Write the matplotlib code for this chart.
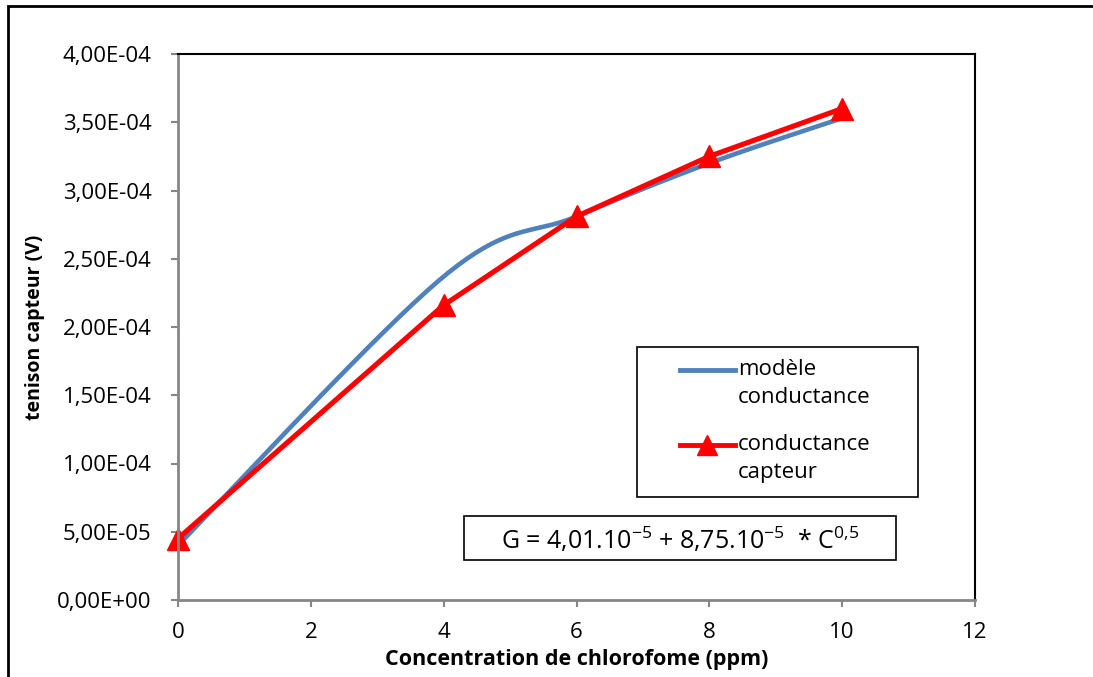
import numpy as np
import matplotlib.pyplot as plt
from matplotlib.patches import Rectangle
from matplotlib.lines import Line2D

plt.rcParams['font.family'] = ['Open Sans', 'DejaVu Sans']
plt.rcParams['mathtext.fontset'] = 'custom'
plt.rcParams['mathtext.rm'] = 'Open Sans'
plt.rcParams['mathtext.it'] = 'Open Sans'

conc = [0, 4, 6, 8, 10]
modele = [4.01e-5, 2.37e-4, 2.81e-4, 3.20e-4, 3.53e-4]
capteur = [4.5e-5, 2.16e-4, 2.81e-4, 3.25e-4, 3.60e-4]

x_ticks = [0, 2, 4, 6, 8, 10, 12]
y_ticks = [0, 5e-5, 1e-4, 1.5e-4, 2e-4, 2.5e-4, 3e-4, 3.5e-4, 4e-4]

labels = ['modèle\nconductance', 'conductance\ncapteur']
blue = '#4f81bd'
red = '#ff0000'


def smooth(xs, ys, n=40):
    # excel-like smoothed line (bezier, tangents from neighbours)
    p = np.column_stack([xs, ys]).astype(float)
    out = []
    for i in range(len(p) - 1):
        p0 = p[i - 1] if i > 0 else p[i]
        p3 = p[i + 2] if i + 2 < len(p) else p[i + 1]
        c1 = p[i] + (p[i + 1] - p0) / 6
        c2 = p[i + 1] - (p3 - p[i]) / 6
        t = np.linspace(0, 1, n)[:, None]
        seg = ((1 - t) ** 3 * p[i] + 3 * (1 - t) ** 2 * t * c1
               + 3 * (1 - t) * t ** 2 * c2 + t ** 3 * p[i + 1])
        out.append(seg if i == 0 else seg[1:])
    out = np.vstack(out)
    return out[:, 0], out[:, 1]


W, H = 1093, 677
fig = plt.figure(figsize=(W / 100, H / 100), dpi=100)
ax = fig.add_axes([178 / W, 77 / H, 797 / W, 546 / H])

sx, sy = smooth(conc, modele)
ax.plot(sx, sy, color=blue, lw=3.3, solid_capstyle='butt', clip_on=False)
ax.plot(conc, capteur, color=red, lw=3.7, marker='^', markersize=16, clip_on=False)

ax.set_xlim(0, 12)
ax.set_ylim(0, 4e-4)
ax.set_xticks(x_ticks)
ax.set_yticks(y_ticks)
ax.set_xticklabels([str(v) for v in x_ticks], fontsize=16)
ax.set_yticklabels([f'{v:.2E}'.replace('.', ',') for v in y_ticks], fontsize=16)
ax.tick_params(axis='both', direction='out', length=5, width=1.5, color='#868686')
ax.tick_params(axis='y', pad=14)
ax.tick_params(axis='x', pad=11)

for s in ['left', 'bottom']:
    ax.spines[s].set_color('#868686')
    ax.spines[s].set_linewidth(2)
for s in ['top', 'right']:
    ax.spines[s].set_color('black')
    ax.spines[s].set_linewidth(1.5)

ax.set_xlabel('Concentration de chlorofome (ppm)', fontsize=15.5, fontweight='bold')
ax.xaxis.set_label_coords(0.5, (H - 660 - 77) / 546)
ax.xaxis.label.set_va('center')
ax.set_ylabel('tenison capteur (V)', fontsize=14, fontweight='bold')
ax.yaxis.set_label_coords((35 - 178) / 797, 0.5)
ax.yaxis.label.set_va('center')

# legend drawn by hand so the key sits on the first line of each label
fig.patches.append(Rectangle((637 / W, 1 - 497 / H), 281 / W, 150 / H,
                             transform=fig.transFigure, fc='white', ec='black', lw=1.2))
for row, (lab, col, mk) in enumerate(zip(labels, [blue, red], [None, '^'])):
    yy = 1 - (370 + row * 75) / H
    fig.add_artist(Line2D([680 / W, 735 / W], [yy, yy], transform=fig.transFigure,
                          color=col, lw=3.5))
    if mk:
        fig.add_artist(Line2D([707 / W], [yy], transform=fig.transFigure,
                              color=col, marker=mk, markersize=14, lw=0))
    fig.text(738 / W, yy + 11 / H, lab, fontsize=16, ha='left', va='top',
             linespacing=1.45)

# equation box
fig.patches.append(Rectangle((464 / W, 1 - 560 / H), 432 / W, 44 / H,
                             transform=fig.transFigure, fc='white', ec='black', lw=1.2))
fig.text(680 / W, 1 - 540 / H,
         r'G = 4,01.10$^{-5}$ + 8,75.10$^{-5}$  * C$^{0{,}5}$',
         fontsize=18, ha='center', va='center')

fig.patches.append(Rectangle((8 / W, -0.1), 1.2, 1 - 6 / H + 0.1,
                             transform=fig.transFigure, fill=False,
                             ec='black', lw=2, clip_on=False))

fig.savefig('out.png', dpi=100)
